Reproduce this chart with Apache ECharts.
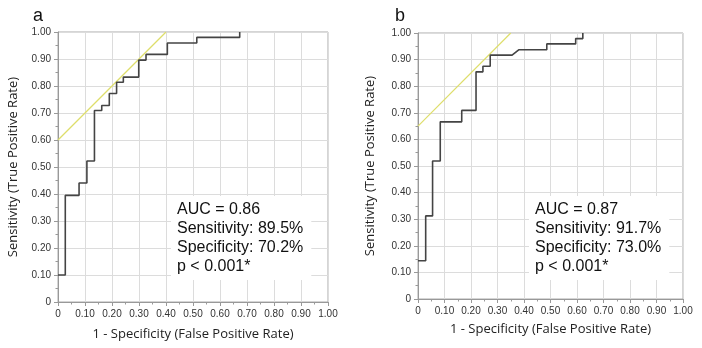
<!DOCTYPE html>
<html>
<head>
<meta charset="utf-8">
<script src="https://cdn.jsdelivr.net/npm/echarts@6/dist/echarts.min.js"></script>
<style>html,body{margin:0;padding:0;background:#fff}#c{width:702px;height:348px}</style>
</head>
<body>
<div id="c"></div>
<script>
// Panel a ROC vertices
const fprA = [0, 0.027, 0.027, 0.078, 0.078, 0.107, 0.107, 0.135, 0.135, 0.162, 0.162, 0.19, 0.19, 0.217, 0.217, 0.242, 0.242, 0.299, 0.299, 0.326, 0.326, 0.405, 0.405, 0.514, 0.514, 0.673, 0.673];
const tprA = [0.10, 0.10, 0.395, 0.395, 0.441, 0.441, 0.522, 0.522, 0.709, 0.709, 0.728, 0.728, 0.772, 0.772, 0.814, 0.814, 0.833, 0.833, 0.896, 0.896, 0.917, 0.917, 0.959, 0.959, 0.98, 0.98, 1.0];
// Panel b ROC vertices
const fprB = [0, 0.029, 0.029, 0.055, 0.055, 0.084, 0.084, 0.165, 0.165, 0.219, 0.219, 0.245, 0.245, 0.2725, 0.2725, 0.355, 0.38, 0.486, 0.486, 0.595, 0.595, 0.622, 0.622];
const tprB = [0.144, 0.144, 0.3125, 0.3125, 0.519, 0.519, 0.666, 0.666, 0.709, 0.709, 0.854, 0.854, 0.875, 0.875, 0.917, 0.917, 0.937, 0.937, 0.959, 0.959, 0.979, 0.979, 1.0];
// Yellow cut-off (tangent) lines
const tangentAx = [0, 0.40], tangentAy = [0.60, 1.0];
const tangentBx = [0, 0.35], tangentBy = [0.65, 1.0];
// Text
const panelLabels = ['a', 'b'];
const statsA = ['AUC = 0.86', 'Sensitivity: 89.5%', 'Specificity: 70.2%', 'p < 0.001*'];
const statsB = ['AUC = 0.87', 'Sensitivity: 91.7%', 'Specificity: 73.0%', 'p < 0.001*'];
const xTitle = '1 - Specificity (False Positive Rate)';
const yTitle = 'Sensitivity (True Positive Rate)';

const zip = (xs, ys) => xs.map((x, i) => [x, ys[i]]);
const fmt = v => v === 0 ? '0' : v.toFixed(2);

function xAxis(idx, gap) {
  return {
    type: 'value', gridIndex: idx, min: 0, max: 1, interval: 0.1,
    name: xTitle, nameLocation: 'middle', nameGap: gap,
    nameTextStyle: {fontFamily: 'Open Sans', fontSize: 13, color: '#222'},
    axisLine: {show: true, lineStyle: {color: '#999'}},
    axisTick: {show: true, length: 4, lineStyle: {color: '#999'}},
    minorTick: {show: true, splitNumber: 2, length: 2.5, lineStyle: {color: '#999'}},
    axisLabel: {formatter: fmt, fontFamily: 'Liberation Sans', fontSize: 10, color: '#333', margin: 7},
    splitLine: {show: true, lineStyle: {color: '#dcdcdc', width: 1}}
  };
}
function yAxis(idx, gap) {
  return {
    type: 'value', gridIndex: idx, min: 0, max: 1, interval: 0.1,
    name: yTitle, nameLocation: 'middle', nameGap: gap, nameRotate: 90,
    nameTextStyle: {fontFamily: 'Open Sans', fontSize: 13, color: '#222'},
    axisLine: {show: true, lineStyle: {color: '#999'}},
    axisTick: {show: true, length: 4, lineStyle: {color: '#999'}},
    minorTick: {show: true, splitNumber: 2, length: 2.5, lineStyle: {color: '#999'}},
    axisLabel: {formatter: fmt, fontFamily: 'Liberation Sans', fontSize: 10, color: '#333', margin: 7},
    splitLine: {show: true, lineStyle: {color: '#dcdcdc', width: 1}}
  };
}
function statsTitle(lines, left) {
  return {
    text: lines.join('\n'), left: left, top: 196,
    backgroundColor: '#fff', padding: [4, 8, 4, 6],
    textStyle: {fontFamily: 'Liberation Sans', fontSize: 16, lineHeight: 19, fontWeight: 'normal', color: '#111'}
  };
}

const chart = echarts.init(document.getElementById('c'));
chart.setOption({
  backgroundColor: '#fff',
  animation: false,
  title: [
    {text: panelLabels[0], left: 28, top: 2, textStyle: {fontFamily: 'Liberation Sans', fontSize: 18, fontWeight: 'normal', color: '#111'}},
    {text: panelLabels[1], left: 390, top: 2, textStyle: {fontFamily: 'Liberation Sans', fontSize: 18, fontWeight: 'normal', color: '#111'}},
    statsTitle(statsA, 171),
    statsTitle(statsB, 529)
  ],
  grid: [
    {left: 58, top: 32, width: 270, height: 270, show: true, borderColor: '#aaa', borderWidth: 1, backgroundColor: 'transparent'},
    {left: 418, top: 33, width: 265, height: 266, show: true, borderColor: '#aaa', borderWidth: 1, backgroundColor: 'transparent'}
  ],
  xAxis: [xAxis(0, 26), xAxis(1, 24)],
  yAxis: [yAxis(0, 38), yAxis(1, 41)],
  series: [
    {type: 'line', xAxisIndex: 0, yAxisIndex: 0, data: zip(tangentAx, tangentAy), showSymbol: false, lineStyle: {color: '#dede6a', width: 1.2}, z: 3},
    {type: 'line', xAxisIndex: 0, yAxisIndex: 0, data: zip(fprA, tprA), showSymbol: false, lineStyle: {color: '#444', width: 1.6}, z: 4},
    {type: 'line', xAxisIndex: 1, yAxisIndex: 1, data: zip(tangentBx, tangentBy), showSymbol: false, lineStyle: {color: '#dede6a', width: 1.2}, z: 3},
    {type: 'line', xAxisIndex: 1, yAxisIndex: 1, data: zip(fprB, tprB), showSymbol: false, lineStyle: {color: '#444', width: 1.6}, z: 4}
  ]
});
</script>
</body>
</html>
